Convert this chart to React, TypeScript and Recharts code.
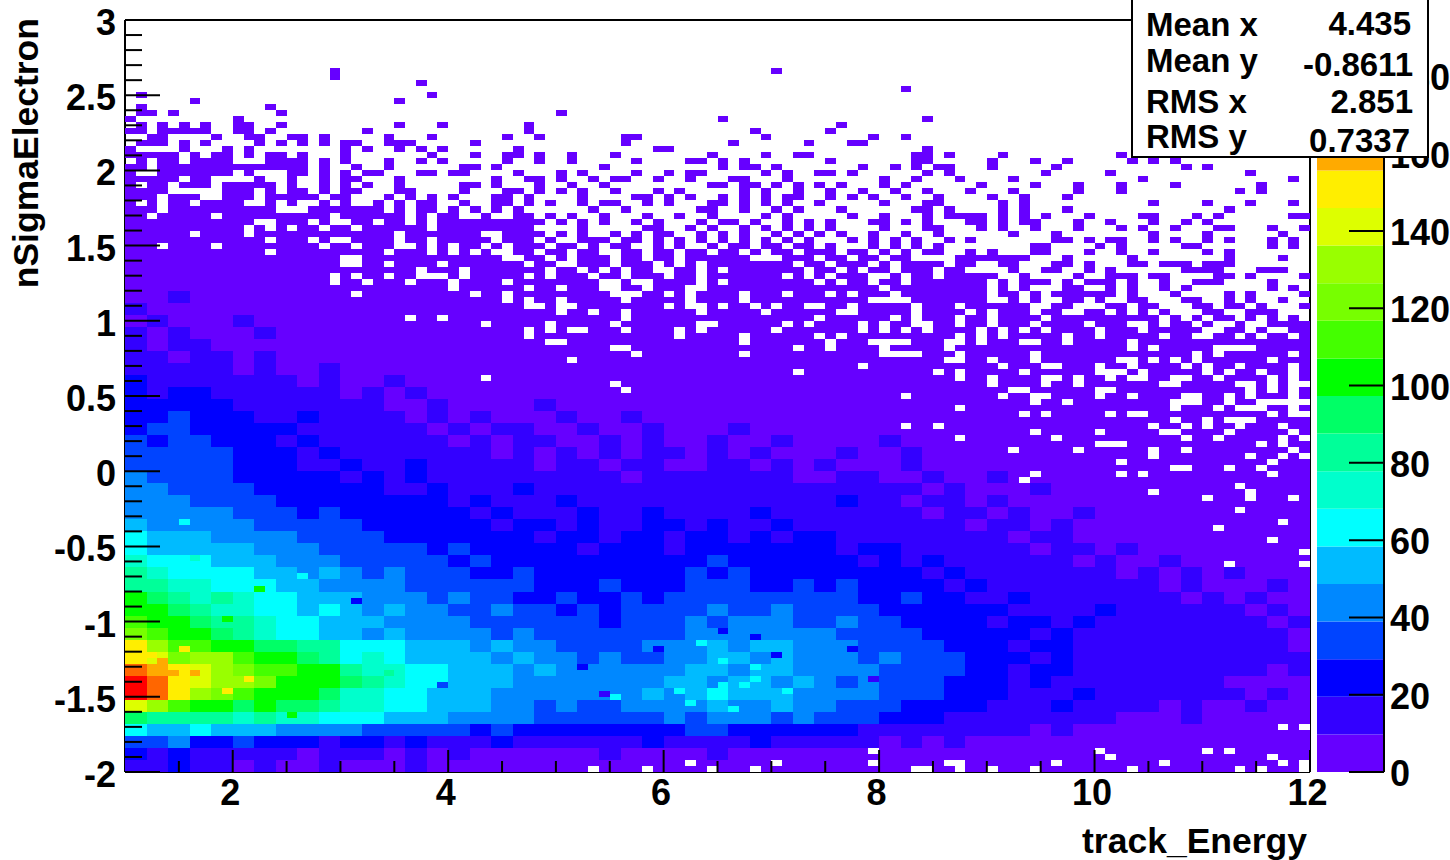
import { ScatterChart, Scatter, BarChart, Bar, XAxis, YAxis, ReferenceLine } from 'recharts';

const PLOT_LEFT = 125;
const PLOT_TOP = 20;
const PLOT_W = 1185;
const PLOT_H = 752;
const PX_PER_X = PLOT_W / 11;
const PX_PER_Y = PLOT_H / 5;
const FONT = '"Liberation Sans", Arial, sans-serif';

const CELL_W = 0.2;
const CELL_H = 0.08;
const FINE_W = 0.1;
const FINE_H = 0.04;
const Z_MAX = 194.6;

const xTicks = [1.5, 2, 2.5, 3, 3.5, 4, 4.5, 5, 5.5, 6, 6.5, 7, 7.5, 8, 8.5, 9, 9.5, 10, 10.5, 11, 11.5, 12];
const xLabels = [2, 4, 6, 8, 10, 12];
const yTicks = [
  -2, -1.9, -1.8, -1.7, -1.6, -1.5, -1.4, -1.3, -1.2, -1.1, -1, -0.9, -0.8, -0.7, -0.6, -0.5, -0.4, -0.3, -0.2, -0.1, 0,
  0.1, 0.2, 0.3, 0.4, 0.5, 0.6, 0.7, 0.8, 0.9, 1, 1.1, 1.2, 1.3, 1.4, 1.5, 1.6, 1.7, 1.8, 1.9, 2, 2.1, 2.2, 2.3, 2.4,
  2.5, 2.6, 2.7, 2.8, 2.9, 3,
];
const yLabels = [-2, -1.5, -1, -0.5, 0, 0.5, 1, 1.5, 2, 2.5, 3];
const zTicks = [0, 20, 40, 60, 80, 100, 120, 140, 160, 180];

const palette = [
  '#6600ff', '#3300ff', '#0000ff', '#0044ff', '#0088ff', '#00bbff', '#00ffff', '#00ffcc', '#00ff99', '#00ff66',
  '#00ff00', '#44ff00', '#77ff00', '#99ff00', '#ddff00', '#ffee00', '#ffaa00', '#ff6600', '#ff2200', '#ff0000',
];

// entries per coarse cell, bottom row first, x from 1 in steps of 0.2, y from -2 in steps of 0.08
const heatCounts = [
  [15,15,25,15,15,5,15,5,5,15, 5,5,5,15,5,5,5,5,5,5, 5,5,5,5,5,5,5,5,5,5, 5,5,5,5,5,5,5,5,5,5, 5,5,5,5,5,5,5,5,5,5, 5,5,5,5,5],
  [25,15,25,15,15,15,15,15,5,15, 15,15,5,15,5,15,5,5,5,5, 5,5,15,5,5,5,5,15,5,5, 5,5,5,5,5,5,5,5,5,5, 5,5,5,5,5,5,5,5,5,5, 5,5,5,5,5],
  [35,35,45,25,25,35,25,25,25,15, 25,25,15,25,15,15,15,25,15,15, 15,15,15,15,25,15,15,15,15,25, 15,15,15,15,15,5,15,5,15,5, 5,5,5,5,5,5,5,5,5,5, 5,5,5,5,5],
  [65,55,55,65,55,55,55,45,45,45, 45,35,35,35,35,35,25,35,25,25, 25,25,25,25,25,25,35,35,25,25, 25,25,25,25,15,15,15,15,15,15, 15,15,5,15,5,5,5,5,5,5, 5,5,5,5,5],
  [95,85,85,85,85,75,85,75,75,65, 65,65,55,55,55,45,45,45,45,35, 35,35,35,35,35,45,35,45,45,45, 35,45,35,35,35,25,25,25,15,15, 15,15,15,15,15,15,5,5,5,15, 5,5,5,5,5],
  [145,135,115,105,105,95,105,95,95,85, 75,75,65,65,55,55,55,45,45,35, 45,35,35,45,45,45,45,55,45,45, 55,45,45,35,35,35,25,25,25,25, 15,15,15,25,15,15,15,15,5,15, 5,5,15,5,5],
  [185,175,155,135,125,115,105,105,105,95, 75,75,65,65,55,55,55,45,45,45, 45,45,45,45,55,45,55,65,55,55, 55,45,45,45,45,35,35,35,25,25, 25,15,15,15,25,15,15,15,15,15, 15,15,5,15,5],
  [185,175,155,145,135,135,125,105,105,105, 95,85,75,65,65,55,55,55,45,45, 45,45,45,45,45,55,55,45,55,55, 45,55,45,35,45,35,35,35,25,25, 25,15,25,15,15,15,15,15,15,15, 15,5,5,5,5],
  [175,165,155,145,135,125,115,115,105,105, 85,75,75,65,65,55,55,55,45,55, 45,45,45,45,45,45,55,55,45,55, 55,45,45,45,45,35,35,35,35,25, 25,15,25,25,15,15,15,15,15,15, 15,15,15,5,15],
  [155,145,125,135,135,115,105,105,95,85, 65,75,65,55,55,55,55,45,55,45, 45,35,45,35,35,45,45,55,55,45, 55,45,45,45,35,45,35,35,35,25, 25,25,15,25,15,15,15,15,15,15, 15,15,15,15,15],
  [155,135,115,115,105,105,95,95,85,85, 65,65,65,55,55,55,45,55,45,45, 35,35,35,35,45,45,45,55,45,55, 55,45,45,45,35,35,35,35,25,25, 25,15,25,25,15,15,15,15,15,15, 15,15,15,15,5],
  [125,115,105,105,95,85,75,65,65,55, 55,45,55,45,45,45,45,35,45,35, 35,35,35,35,35,35,45,45,45,45, 45,45,45,35,35,35,35,25,25,25, 25,25,15,25,15,15,15,15,15,15, 15,15,15,15,5],
  [115,105,105,95,85,85,75,65,65,55, 55,55,45,45,45,45,35,35,35,35, 35,35,25,35,35,35,45,35,45,45, 45,35,35,45,35,35,25,25,25,25, 15,25,25,15,25,15,15,15,15,15, 15,15,15,5,15],
  [105,105,95,85,75,75,65,65,55,65, 55,45,55,45,45,35,35,45,35,35, 25,35,25,35,35,35,35,45,35,35, 45,35,35,35,35,25,25,25,25,25, 25,15,15,15,15,25,15,15,15,15, 15,15,5,15,5],
  [105,95,85,75,85,75,65,65,55,55, 55,45,45,45,35,45,35,35,25,25, 35,25,25,35,25,35,35,35,35,35, 35,35,35,35,25,25,35,25,25,15, 15,25,15,15,15,15,15,15,15,5, 15,5,15,5,5],
  [85,85,75,75,65,65,65,55,55,45, 45,45,45,35,35,35,35,35,35,25, 25,25,35,25,25,25,35,35,35,25, 25,35,25,35,25,25,25,25,15,25, 15,15,15,15,15,15,15,15,5,15, 5,5,5,15,5],
  [85,75,65,65,65,65,55,55,45,55, 45,35,45,35,35,35,25,25,35,25, 25,25,25,25,25,25,35,25,35,25, 25,25,25,25,25,25,25,15,25,15, 15,15,15,15,15,15,5,15,5,15, 5,15,5,5,5],
  [75,65,65,65,55,55,55,45,45,45, 35,35,35,35,35,25,35,25,25,25, 25,25,25,25,25,25,25,35,25,25, 25,25,25,25,15,25,15,25,15,15, 15,15,15,15,5,15,5,5,15,5, 5,5,5,5,5],
  [65,55,55,55,55,55,45,45,45,35, 35,35,35,35,25,35,25,25,25,25, 25,15,25,25,25,15,25,25,25,25, 25,25,25,15,25,25,15,15,15,15, 15,15,5,15,15,5,15,5,5,5, 5,5,5,5,5],
  [65,55,55,55,45,45,45,45,35,35, 35,35,25,25,25,25,25,25,25,15, 25,25,15,25,25,15,25,25,15,25, 15,25,25,15,15,15,15,15,15,15, 15,5,15,15,5,5,5,5,5,5, 5,5,5,5,5],
  [55,45,45,45,45,45,35,35,35,35, 35,25,25,25,25,25,25,15,25,25, 15,25,15,15,25,25,15,25,15,15, 25,15,15,15,15,15,15,15,15,5, 15,15,5,15,5,5,5,5,5,5, 5,5,5,5,5],
  [45,45,45,45,45,35,35,35,25,35, 25,25,25,25,25,25,15,25,15,15, 15,25,15,15,25,15,15,15,15,25, 15,15,15,15,15,15,15,5,15,15, 5,15,5,5,15,5,5,5,5,5, 5,5,5,5,5],
  [45,45,45,35,35,35,35,25,25,25, 25,25,25,25,25,15,25,15,15,15, 25,15,15,15,15,15,15,15,15,15, 15,15,15,25,15,15,5,15,15,5, 15,5,5,5,5,5,5,5,5,5, 5,5,5,5,5],
  [45,45,35,35,35,35,25,25,25,25, 25,25,15,15,25,15,15,15,25,15, 15,15,15,15,15,15,15,15,15,15, 15,15,15,15,15,15,15,5,15,5, 5,5,15,5,5,5,5,5,5,5, 5,5,5,5,5],
  [45,35,35,35,35,25,25,25,25,25, 15,25,15,25,15,15,15,15,15,15, 15,15,15,5,15,15,15,15,15,15, 15,5,5,15,15,5,5,15,5,5, 15,5,5,5,5,5,5,5,5,5, 5,5,5,5,5],
  [35,35,35,35,35,25,25,25,15,15, 25,15,15,25,15,15,15,15,15,5, 15,15,5,15,15,5,5,15,15,5, 15,5,15,5,5,5,15,5,5,5, 5,5,5,5,5,5,5,5,5,5, 5,5,5,5,5],
  [35,35,35,35,35,25,25,25,15,25, 15,15,15,15,15,15,15,5,15,5, 15,5,15,5,15,15,5,15,5,15, 5,5,5,15,5,5,15,5,5,5, 5,5,5,5,5,5,5,5,5,5, 5,5,5,5,5],
  [35,25,35,35,25,25,25,15,25,15, 15,15,15,15,15,5,15,5,15,15, 5,5,15,5,15,5,5,15,5,5, 15,5,5,5,5,15,5,5,5,5, 5,5,5,5,5,5,5,5,5,5, 5,5,5,5,5],
  [25,35,35,25,25,25,25,25,15,15, 15,15,15,15,5,15,5,15,15,5, 5,15,5,5,15,5,5,5,15,5, 5,5,5,5,5,5,5,5,5,5, 5,5,5,5,5,5,5,5,5,5, 5,5,5,5,5],
  [25,25,35,25,25,25,15,15,25,15, 15,15,15,5,15,5,15,5,5,5, 15,5,5,15,5,5,5,5,5,5, 5,5,5,5,5,5,5,5,5,5, 5,5,5,5,5,5,5,5,5,5, 5,5,5,5,5],
  [25,25,25,25,25,15,15,15,15,15, 15,15,5,5,15,5,5,5,5,15, 5,5,5,5,5,5,5,5,5,5, 5,5,5,5,5,5,5,5,5,5, 5,5,5,5,5,5,5,5,5,5, 5,5,5,5,5],
  [25,15,25,25,15,15,15,15,15,15, 5,15,5,15,5,5,5,5,5,5, 5,5,5,5,5,5,5,5,5,5, 5,5,5,5,5,5,5,5,5,5, 5,5,5,5,5,5,5,5,5,5, 5,5,5,5,5],
  [25,15,15,15,15,15,15,15,5,15, 5,5,15,5,5,5,5,5,5,5, 5,5,5,5,5,5,5,5,5,5, 5,5,5,5,5,5,5,5,5,5, 5,5,5,5,5,5,5,5,5,5, 5,5,5,5,5],
  [15,15,15,15,15,5,15,5,5,15, 5,5,5,5,5,5,5,5,5,5, 5,5,5,5,5,5,5,5,5,5, 5,5,5,5,5,5,5,5,5,5, 5,5,5,5,5,5,5,5,5,5, 5,5,5,5,5],
  [15,15,5,15,15,5,15,5,5,5, 5,5,5,5,5,5,5,5,5,5, 5,5,5,5,5,5,5,5,5,5, 5,5,5,5,5,5,5,5,5,5, 5,5,5,5,5,5,5,5,5,5, 5,5,5,5,5],
  [15,5,15,15,5,5,5,5,5,5, 5,5,5,5,5,5,5,5,5,5, 5,5,5,5,5,5,5,5,5,5, 5,5,5,5,5,5,5,5,5,5, 5,5,5,5,5,5,5,5,5,5, 5,5,5,5,5],
  [15,5,15,5,5,5,15,5,5,5, 5,5,5,5,5,5,5,5,5,5, 5,5,5,5,5,5,5,5,5,5, 5,5,5,5,5,5,5,5,5,5, 5,5,5,5,5,5,5,5,5,5, 0,0,0,0,0],
  [5,15,5,5,5,15,5,5,5,5, 5,5,5,5,5,5,5,5,5,5, 5,5,5,5,5,5,5,5,5,5, 5,5,5,5,5,5,5,5,5,5, 5,5,5,5,5,5,5,5,0,0, 0,0,0,0,0],
  [15,5,5,5,5,5,5,5,5,5, 5,5,5,5,5,5,5,5,5,5, 5,5,5,5,5,5,5,5,5,5, 5,5,5,5,5,5,5,5,5,5, 5,5,0,0,0,0,0,0,0,0, 0,0,0,0,0],
  [5,5,15,5,5,5,5,5,5,5, 5,5,5,5,5,5,5,5,5,5, 5,5,5,5,5,5,5,5,5,5, 5,5,5,5,5,5,5,5,5,5, 0,0,0,0,0,0,0,0,0,0, 0,0,0,0,0],
];

// filled bands above the table: lower y of the band and the x where it stops
const bandYs = [1.2, 1.28, 1.36, 1.44, 1.52, 1.6, 1.68, 1.76, 1.84, 1.92];
const bandEnds = [9.0, 8.4, 8.4, 4.8, 4.8, 4.8, 3.4, 2.8, 2.4, 2.0];

// single bins that stand out from their coarse cell: lower y, lower x, entries
const accentYs = [-1.28, -1.24, -1.2, -1.4, -1.36, -1.36, -1.36, -1.48, -1.12, -1.0, -0.92, -1.16, -1.28, -1.32, -1.44, -1.44, -1.4, -1.48, -1.48, -1.56, -1.6, -1.12, -1.2, -1.4, -1.5, -1.24, -1.08, -1.2, -1.32, -1.52, -1.36, -0.8, -0.6, -0.88, -0.72, -1.64, -1.44, -1.24, -0.36];
const accentXs = [1.3, 1.2, 1.5, 2.1, 1.3, 1.4, 1.6, 1.9, 1.6, 1.9, 1.7, 6.3, 6.5, 6.8, 6.5, 6.7, 6.8, 7.1, 6.1, 6.2, 6.6, 6.8, 7.7, 7.9, 5.4, 7.0, 6.5, 5.9, 5.2, 5.5, 3.4, 2.2, 1.6, 3.1, 2.6, 2.5, 3.9, 3.3, 1.5];
const accentCounts = [165, 155, 155, 155, 165, 165, 165, 155, 105, 105, 85, 65, 65, 65, 65, 65, 65, 65, 65, 65, 65, 25, 25, 15, 15, 25, 25, 25, 25, 65, 85, 105, 75, 25, 65, 105, 35, 75, 65];

// single filled bins outside the bands: [lower y, lower x of each bin]
const speckRows: [number, number[]][] = [
  [2.64, [2.9, 7.0]],
  [2.6, [2.9]],
  [2.56, [3.7]],
  [2.52, [8.2]],
  [2.48, [1.1, 3.8]],
  [2.44, [1.6, 3.5]],
  [2.4, [1.1, 2.3]],
  [2.36, [1.1, 1.2, 1.4, 2.4, 5.0]],
  [2.32, [1.0, 2.0, 6.5, 8.4]],
  [2.28, [1.1, 1.3, 1.5, 1.7, 2.0, 2.1, 2.4, 3.5, 3.9, 4.7, 7.6]],
  [2.24, [1.0, 1.1, 1.3, 1.4, 1.5, 1.6, 1.7, 2.0, 2.1, 2.3, 3.2, 4.7, 6.8, 7.5]],
  [2.2, [1.2, 1.3, 1.8, 2.1, 2.2, 2.5, 2.6, 2.8, 3.4, 3.8, 4.5, 4.8, 5.6, 5.7, 6.9, 7.9, 8.2]],
  [2.16, [1.1, 1.2, 1.3, 1.5, 1.7, 2.2, 2.4, 2.6, 2.8, 3.0, 3.1, 3.4, 3.5, 3.6, 4.2, 5.6, 6.6, 7.3, 7.7, 7.8]],
  [2.12, [1.0, 1.5, 1.9, 2.1, 3.0, 3.2, 3.5, 3.7, 3.9, 4.6, 5.9, 6.0, 8.4]],
  [2.08, [1.0, 1.1, 1.2, 1.3, 1.4, 1.6, 1.8, 1.9, 2.1, 2.3, 2.4, 2.6, 3.0, 3.8, 4.2, 4.5, 4.6, 4.8, 5.1, 5.5, 6.4, 6.9, 7.2, 7.3, 8.3, 8.4, 8.6, 9.1, 10.2, 10.5, 11.8]],
  [2.04, [1.1, 1.3, 1.4, 1.6, 1.7, 1.8, 1.9, 2.3, 2.4, 2.5, 2.6, 2.8, 3.0, 3.4, 3.7, 3.9, 4.5, 4.8, 5.1, 5.7, 6.2, 6.3, 6.5, 6.7, 7.5, 8.3, 8.4, 9.0, 9.4, 9.7, 10.3, 10.5, 10.7]],
  [2.0, [1.0, 1.1, 1.3, 1.4, 1.5, 1.6, 1.7, 1.8, 1.9, 2.0, 2.1, 2.2, 2.3, 2.4, 2.5, 2.6, 2.8, 3.1, 3.4, 4.1, 4.2, 4.4, 5.4, 6.5, 6.7, 6.8, 7.0, 7.8, 8.1, 8.3, 8.5, 8.6, 9.0, 9.6, 10.8, 11.0]],
  [1.96, [2.1, 2.5, 2.6, 2.8, 3.0, 3.2, 3.3, 3.7, 3.8, 4.0, 4.1, 4.6, 5.0, 5.2, 5.7, 6.0, 6.2, 6.3, 6.9, 7.1, 7.4, 7.5, 7.7, 8.4, 8.6, 9.5, 10.1, 11.4]],
  [1.92, [2.2, 2.5, 2.8, 3.0, 3.1, 3.5, 4.4, 4.7, 4.8, 5.0, 5.3, 5.5, 5.6, 5.9, 6.2, 6.6, 6.7, 7.1, 8.0, 8.3, 8.7, 9.2, 10.4, 11.8]],
  [1.88, [2.2, 2.3, 2.5, 2.8, 3.0, 3.2, 3.5, 4.1, 4.2, 4.4, 4.8, 5.1, 5.4, 6.4, 6.5, 6.7, 6.8, 7.0, 7.2, 7.4, 7.6, 8.0, 8.2, 8.9, 9.4, 9.8, 10.2, 10.7, 11.5]],
  [1.84, [2.5, 2.6, 2.8, 3.0, 3.1, 3.5, 3.6, 4.1, 4.5, 4.6, 4.8, 5.0, 5.2, 5.5, 5.9, 6.1, 6.7, 6.9, 7.2, 7.5, 7.8, 8.1, 8.4, 8.8, 9.2, 9.8, 10.2, 11.3, 11.5]],
  [1.8, [2.4, 2.5, 2.9, 3.0, 3.4, 3.6, 3.8, 4.0, 4.4, 4.5, 4.7, 5.2, 5.7, 5.8, 6.0, 6.2, 6.5, 6.7, 6.9, 7.1, 7.2, 7.5, 7.7, 7.9, 8.2, 8.5, 9.0, 9.3, 9.7]],
  [1.76, [2.8, 3.0, 3.3, 3.5, 3.7, 3.8, 4.1, 4.4, 4.5, 4.7, 4.9, 5.2, 5.4, 5.5, 5.8, 6.0, 6.4, 6.5, 6.7, 6.9, 7.1, 7.4, 8.0, 8.4, 8.5, 9.1, 9.3, 10.5, 11.0, 11.4, 11.8]],
  [1.72, [3.0, 3.1, 3.3, 3.5, 3.7, 3.8, 4.0, 4.2, 4.4, 4.6, 5.3, 5.6, 6.3, 6.4, 6.7, 7.0, 7.2, 7.6, 8.3, 8.4, 8.6, 9.1, 9.3, 9.7, 11.2]],
  [1.68, [3.4, 3.5, 3.7, 3.9, 4.0, 4.3, 4.6, 4.7, 4.9, 5.1, 5.4, 5.8, 6.1, 6.4, 6.9, 7.1, 7.7, 8.0, 8.4, 8.6, 8.7, 8.8, 8.9, 9.1, 9.3, 9.5, 9.9, 10.4, 10.5, 10.9, 11.1, 11.8, 11.9]],
  [1.64, [4.8, 5.0, 5.2, 5.4, 5.7, 5.9, 6.3, 6.5, 6.6, 6.8, 7.1, 7.3, 7.5, 7.9, 8.0, 8.2, 8.4, 8.8, 8.9, 9.1, 9.3, 9.4, 9.8, 10.1, 10.5, 10.8, 11.0]],
  [1.6, [5.2, 5.8, 5.9, 6.2, 6.4, 6.7, 6.9, 7.1, 7.3, 7.5, 8.0, 8.4, 8.5, 8.9, 9.1, 9.4, 9.8, 10.2, 10.4, 10.7, 11.1, 11.2, 11.6, 11.9]],
  [1.56, [4.8, 5.0, 5.2, 5.5, 5.7, 5.9, 6.0, 6.3, 6.5, 6.7, 7.0, 7.2, 7.4, 7.6, 7.9, 8.2, 8.5, 9.2, 9.6, 10.5, 11.0, 11.7]],
  [1.52, [4.9, 5.2, 5.3, 5.4, 5.6, 5.7, 5.9, 6.1, 6.3, 6.5, 6.7, 6.9, 7.1, 7.3, 7.7, 7.9, 8.1, 8.3, 8.6, 8.8, 9.6, 9.7, 9.9, 10.1, 10.2, 10.5, 10.7, 11.0, 11.2, 11.6, 11.8]],
  [1.48, [4.8, 5.0, 5.1, 5.3, 5.5, 5.6, 5.9, 6.1, 6.4, 6.6, 6.7, 6.9, 7.0, 7.2, 7.3, 7.5, 7.9, 8.1, 8.3, 8.5, 9.4, 9.5, 10.0, 10.2, 10.8, 10.9, 11.6, 11.8]],
  [1.44, [4.9, 5.0, 5.2, 5.3, 5.6, 5.7, 5.9, 6.0, 6.2, 6.3, 6.5, 6.6, 6.8, 7.0, 7.1, 7.3, 7.4, 7.5, 7.7, 7.8, 8.0, 8.2, 8.4, 8.5, 8.8, 9.0, 9.4, 9.5, 9.9, 10.2, 10.5, 11.0, 11.2]],
  [1.4, [8.7, 8.8, 8.9, 9.0, 9.1, 9.2, 9.3, 9.7, 10.3, 11.2, 11.7]],
  [1.36, [8.4, 8.5, 8.7, 8.8, 9.1, 9.2, 9.6, 9.7, 9.9, 10.3, 10.4, 10.6, 10.7, 10.8, 11.0, 11.1, 11.2]],
  [1.32, [8.4, 8.6, 8.7, 9.2, 9.5, 9.6, 9.9, 10.1, 10.8, 10.9, 11.0, 11.1, 11.5, 11.6, 11.7]],
  [1.28, [8.4, 8.6, 8.7, 8.8, 8.9, 9.0, 9.3, 9.8, 10.1, 10.2, 10.3, 10.5, 10.6, 11.1, 11.2, 11.4, 11.9]],
  [1.24, [8.4, 8.5, 8.7, 8.9, 9.1, 9.3, 9.4, 9.5, 9.7, 9.9, 10.0, 10.1, 10.3, 10.6, 10.9, 11.0, 11.1, 11.6]],
  [1.2, [9.1, 9.3, 9.7, 9.8, 10.1, 10.3, 10.6, 10.8, 11.6, 11.8]],
  [1.16, [9.1, 9.2, 9.4, 9.6, 9.7, 9.8, 9.9, 10.0, 10.1, 10.3, 10.7, 11.2, 11.4, 11.9]],
  [1.12, [9.2, 9.4, 9.7, 9.8, 10.0, 10.3, 10.4, 10.8, 10.9, 11.2, 11.4, 11.7]],
  [1.08, [9.6, 9.7, 10.1, 10.2, 10.4, 10.5, 10.9, 11.0, 11.2, 11.3, 11.5, 11.9]],
  [1.04, [9.5, 9.6, 9.9, 10.0, 10.2, 10.4, 10.6, 11.0, 11.1, 11.4, 11.5, 11.6]],
  [1.0, [10.7, 10.9, 11.1, 11.2, 11.4, 11.6, 11.8]],
  [0.96, [10.7, 10.8, 11.0, 11.3, 11.6, 11.7, 11.8, 11.9]],
  [0.92, [11.2, 11.3, 11.5, 11.8, 11.9]],
  [0.88, [11.1, 11.2, 11.4, 11.6, 11.7, 11.9]],
];

// bins with no entries inside the filled area: [lower y, lower x of each bin]
const holeRows: [number, number[]][] = [
  [1.96, [1.1, 1.2]],
  [1.92, [1.5, 1.8, 1.9]],
  [1.88, [1.1, 1.4, 1.8]],
  [1.84, [1.4, 1.5, 1.6, 1.7, 1.8, 2.2]],
  [1.8, [1.3, 1.7, 1.8, 2.2]],
  [1.76, [1.1, 1.3, 1.6, 2.1, 2.2, 2.4, 2.6, 2.7]],
  [1.72, [1.3, 2.4, 2.5, 2.6]],
  [1.68, [1.2, 1.8, 2.9]],
  [1.64, [2.2, 2.3, 2.7, 2.9, 3.0, 3.3, 3.6, 3.8]],
  [1.6, [2.1, 2.3, 2.5, 2.8, 3.1, 3.8]],
  [1.56, [1.6, 2.1, 3.5, 4.3, 4.4]],
  [1.52, [2.3, 2.7, 2.9, 3.0, 3.5, 3.8, 4.4]],
  [1.48, [1.3, 1.8, 2.8, 3.1, 3.5, 3.6, 3.8, 4.0, 4.3, 4.5]],
  [1.44, [2.3, 3.4, 3.8, 4.0, 4.2, 4.4, 4.5]],
  [1.4, [3.0, 3.1, 4.5, 4.6, 4.9, 5.1, 5.5, 5.8, 6.1, 6.8, 6.9, 7.0, 7.4, 7.7, 8.0, 8.3]],
  [1.36, [3.0, 3.1, 3.4, 3.9, 4.7, 5.0, 5.1, 5.5, 5.9, 6.1, 6.3, 7.2, 7.5, 7.9, 8.1]],
  [1.32, [3.7, 4.1, 4.9, 5.2, 5.4, 5.6, 5.9, 6.0, 6.3, 6.5, 7.3, 7.6, 7.8, 8.1]],
  [1.28, [2.9, 3.1, 3.4, 3.7, 3.8, 3.9, 4.1, 4.7, 4.9, 5.3, 5.6, 6.0, 6.3, 7.1, 7.3, 7.5, 7.9, 8.0, 8.2]],
  [1.24, [2.9, 3.2, 3.6, 4.0, 4.5, 5.4, 5.5, 5.7, 5.8, 6.3, 6.5, 7.4, 7.6, 7.9, 8.2]],
  [1.2, [4.0, 4.7, 5.0, 5.4, 5.5, 5.8, 6.2, 6.3, 8.0]],
  [1.16, [3.1, 4.2, 4.5, 5.5, 5.6, 5.7, 6.0, 6.2, 6.7, 7.1, 7.5, 7.7, 8.1]],
  [1.12, [4.5, 4.7, 5.0, 5.6, 6.2, 6.7, 7.9, 8.0, 8.1, 8.2]],
  [1.08, [4.7, 4.8, 5.0, 5.1, 6.0, 6.2, 6.3, 6.5, 6.8, 7.0, 7.3, 7.4, 7.7, 8.3, 8.7]],
  [1.04, [5.0, 5.3, 5.6, 6.3, 6.9, 7.6, 7.7, 8.3, 8.8, 9.0]],
  [1.0, [3.6, 3.9, 5.6, 7.4, 8.1, 8.3, 8.7, 9.0, 9.5]],
  [0.96, [4.3, 4.9, 5.5, 6.3, 6.4, 7.1, 7.3, 7.8, 8.0, 8.3, 8.4, 8.7, 9.0, 9.4, 9.9, 10.3, 10.4]],
  [0.92, [4.7, 4.9, 5.1, 5.2, 5.6, 6.1, 6.3, 7.0, 7.8, 8.0, 8.2, 8.4, 8.9, 9.1, 9.3, 9.5, 10.0, 10.4]],
  [0.88, [4.7, 6.1, 6.7, 7.4, 7.6, 8.7, 8.9, 9.1, 9.7, 10.0, 10.6, 10.9]],
  [0.84, [4.9, 5.0, 6.7, 7.5, 7.9, 8.0, 8.1, 8.2, 8.6, 8.7, 8.9, 9.3, 9.4, 9.7, 10.3]],
  [0.8, [5.5, 5.6, 7.2, 7.5, 8.0, 8.6, 10.3, 10.5, 11.1, 11.2, 11.3, 11.4]],
  [0.76, [5.7, 6.7, 8.0, 8.1, 8.2, 8.3, 8.7, 9.4, 10.9, 11.1, 11.8]],
  [0.72, [5.1, 8.6, 8.7, 9.0, 9.4, 10.2, 10.3, 10.5, 10.7, 10.9, 11.6]],
  [0.68, [7.8, 9.1, 9.5, 9.6, 10.0, 10.3, 10.8, 11.0, 11.3, 11.8]],
  [0.64, [7.2, 8.5, 8.7, 9.3, 10.0, 10.1, 10.2, 10.4, 11.0, 11.2, 11.5, 11.8]],
  [0.6, [4.3, 8.7, 9.0, 9.5, 9.6, 9.8, 10.1, 10.3, 10.4, 10.7, 10.8, 11.1, 11.6, 11.8]],
  [0.56, [5.5, 9.0, 9.5, 9.8, 10.6, 10.7, 11.3, 11.4, 11.6, 11.8, 11.9]],
  [0.52, [5.6, 9.2, 9.3, 10.0, 10.1, 11.4, 11.6, 11.8]],
  [0.48, [8.2, 9.1, 9.4, 9.5, 10.0, 10.3, 10.8, 10.9, 11.2, 11.4, 11.8]],
  [0.44, [9.4, 9.7, 10.7, 10.8, 10.9, 11.2, 11.5, 11.6, 11.7, 11.8, 11.9]],
  [0.4, [8.7, 10.7, 11.1, 11.3, 11.4, 11.5, 11.8]],
  [0.36, [9.3, 9.5, 10.1, 10.3, 10.4, 11.6, 11.8, 11.9]],
  [0.32, [10.7, 11.0, 11.2, 11.3, 11.4]],
  [0.28, [8.2, 8.5, 10.5, 10.8, 11.0, 11.3, 11.7]],
  [0.24, [9.4, 10.0, 10.6, 10.7, 11.2, 11.8]],
  [0.2, [8.7, 9.6, 10.8, 11.1, 11.7, 11.9]],
  [0.16, [10.0, 10.1, 10.2, 11.5, 11.7]],
  [0.12, [9.2, 9.8, 10.5, 10.8, 11.8]],
  [0.08, [10.5, 11.4, 11.7, 11.9]],
  [0.04, [10.2, 11.6]],
  [0.0, [10.7, 10.8, 11.2, 11.5]],
  [-0.04, [9.4, 10.2, 10.4, 11.6]],
  [-0.08, [9.3]],
  [-0.12, [11.3]],
  [-0.16, [10.5, 11.4]],
  [-0.2, [11.0, 11.4, 11.8]],
  [-0.28, [11.3]],
  [-0.36, [11.7]],
  [-0.4, [11.1]],
  [-0.48, [11.6]],
  [-0.56, [11.9]],
  [-0.64, [11.2, 11.9]],
  [-1.72, [11.7, 11.9]],
  [-1.88, [7.9, 10.0, 11.0, 11.2]],
  [-1.92, [10.1, 11.6]],
  [-1.96, [6.2, 7.0, 7.9, 8.6, 8.7, 9.6, 10.6, 11.7, 11.9]],
  [-2, [5.3, 5.8, 6.4, 6.8, 8.3, 8.4, 8.7, 9.0, 9.4, 10.3, 11.3, 11.5, 11.9]],
];

const levelOf = (count: number) => Math.min(19, Math.floor(count / (Z_MAX / 20)));

const heatCells = heatCounts.flatMap((row, k) =>
  row.flatMap((count, i) =>
    count > 0
      ? [{ x: 1 + i * CELL_W + CELL_W / 2, y: -2 + k * CELL_H + CELL_H / 2, w: CELL_W, h: CELL_H, fill: palette[levelOf(count)] }]
      : [],
  ),
);
const bandCells = bandYs.map((y, k) => ({
  x: (1 + bandEnds[k]) / 2,
  y: y + CELL_H / 2,
  w: bandEnds[k] - 1,
  h: CELL_H,
  fill: palette[0],
}));
const accentCells = accentYs.map((y, k) => ({
  x: accentXs[k] + FINE_W / 2,
  y: y + FINE_H / 2,
  w: FINE_W,
  h: FINE_H,
  fill: palette[levelOf(accentCounts[k])],
}));
const fineCells = (rows: [number, number[]][], fill: string) =>
  rows.flatMap(([y, xs]) => xs.map((x) => ({ x: x + FINE_W / 2, y: y + FINE_H / 2, w: FINE_W, h: FINE_H, fill })));
const speckCells = fineCells(speckRows, palette[0]);
const holeCells = fineCells(holeRows, '#ffffff');

const paletteRow: Record<string, number | string> = { name: 'z' };
palette.forEach((_, i) => {
  paletteRow[`l${i}`] = Z_MAX / 20;
});

function HeatCell(props: any) {
  const { cx, cy, payload } = props;
  const w = payload.w * PX_PER_X;
  const h = payload.h * PX_PER_Y;
  return <rect x={cx - w / 2} y={cy - h / 2} width={w} height={h} fill={payload.fill} shapeRendering="crispEdges" />;
}

function XTick(props: any) {
  const { x, y, payload } = props;
  const major = xLabels.includes(payload.value);
  return (
    <g>
      <line x1={x} x2={x} y1={y} y2={y - (major ? 22 : 11)} stroke="#000" strokeWidth={2} />
      {major && (
        <text x={x - 2.5} y={y + 33} textAnchor="middle" fontFamily={FONT} fontWeight="bold" fontSize={36} fill="#000">
          {payload.value}
        </text>
      )}
    </g>
  );
}

function YTick(props: any) {
  const { x, y, payload } = props;
  const major = yLabels.includes(payload.value);
  return (
    <g>
      <line x1={x} x2={x + (major ? 35 : 17)} y1={y} y2={y} stroke="#000" strokeWidth={2} />
      {major && (
        <text x={x - 9} y={y + 15} textAnchor="end" fontFamily={FONT} fontWeight="bold" fontSize={36} fill="#000">
          {payload.value}
        </text>
      )}
    </g>
  );
}

function ZTick(props: any) {
  const { x, y, payload } = props;
  return (
    <g>
      <line x1={x - 35} x2={x} y1={y} y2={y} stroke="#000" strokeWidth={2} />
      <text x={x + 6} y={y + 14} textAnchor="start" fontFamily={FONT} fontWeight="bold" fontSize={36} fill="#000">
        {payload.value}
      </text>
    </g>
  );
}

const statLabels = ['Mean x', 'Mean y', 'RMS x', 'RMS y'];
const statValues = ['4.435', '-0.8611', '2.851', '0.7337'];
const statLabelBase = [36, 72, 113, 148];
const statValueBase = [35, 76, 113, 152];
const statValueEnd = [1411, 1413, 1413, 1410];

export default function App() {
  return (
    <div style={{ position: 'absolute', left: 0, top: 0, width: 1450, height: 860, background: '#fff', overflow: 'hidden' }}>
      <div style={{ position: 'absolute', left: 0, top: 0 }}>
        <ScatterChart
          width={1450}
          height={860}
          margin={{ top: PLOT_TOP, right: 1450 - PLOT_LEFT - PLOT_W, bottom: 38, left: PLOT_LEFT - 60 }}
        >
          <Scatter data={heatCells} shape={HeatCell} isAnimationActive={false} />
          <Scatter data={bandCells} shape={HeatCell} isAnimationActive={false} />
          <Scatter data={accentCells} shape={HeatCell} isAnimationActive={false} />
          <Scatter data={speckCells} shape={HeatCell} isAnimationActive={false} />
          <Scatter data={holeCells} shape={HeatCell} isAnimationActive={false} />
          <XAxis
            type="number"
            dataKey="x"
            domain={[1, 12]}
            allowDataOverflow
            ticks={xTicks}
            interval={0}
            height={50}
            tickSize={0}
            tickMargin={0}
            tick={XTick}
            axisLine={{ stroke: '#000', strokeWidth: 2 }}
          />
          <YAxis
            type="number"
            dataKey="y"
            domain={[-2, 3]}
            allowDataOverflow
            ticks={yTicks}
            interval={0}
            width={60}
            tickSize={0}
            tickMargin={0}
            tick={YTick}
            axisLine={{ stroke: '#000', strokeWidth: 2 }}
          />
          <ReferenceLine y={3} stroke="#000" strokeWidth={2} ifOverflow="visible" />
          <ReferenceLine x={12} stroke="#000" strokeWidth={2} ifOverflow="visible" />
        </ScatterChart>
      </div>
      <div style={{ position: 'absolute', left: 1317, top: 0 }}>
        <BarChart width={133} height={860} data={[paletteRow]} margin={{ top: PLOT_TOP, right: 0, bottom: 88, left: 0 }} barCategoryGap={0}>
          {palette.map((color, i) => (
            <Bar key={color} dataKey={`l${i}`} stackId="z" fill={color} isAnimationActive={false} />
          ))}
          <XAxis dataKey="name" hide />
          <YAxis
            orientation="right"
            type="number"
            domain={[0, Z_MAX]}
            allowDataOverflow
            ticks={zTicks}
            interval={0}
            width={66}
            tickSize={0}
            tickMargin={0}
            tick={ZTick}
            axisLine={{ stroke: '#000', strokeWidth: 2 }}
          />
        </BarChart>
      </div>
      <svg width={1450} height={860} style={{ position: 'absolute', left: 0, top: 0 }}>
        <text x={1307} y={853} textAnchor="end" fontFamily={FONT} fontWeight="bold" fontSize={35.5} fill="#000">
          track_Energy
        </text>
        <text
          transform="translate(38,18) rotate(-90)"
          textAnchor="end"
          fontFamily={FONT}
          fontWeight="bold"
          fontSize={35.5}
          fill="#000"
        >
          nSigmaElectron
        </text>
        <rect x={1132} y={-4} width={296} height={161} fill="#fff" stroke="#000" strokeWidth={2} />
        {statLabels.map((label, i) => (
          <text key={label} x={1146} y={statLabelBase[i]} fontFamily={FONT} fontWeight="bold" fontSize={33} fill="#000">
            {label}
          </text>
        ))}
        {statValues.map((value, i) => (
          <text key={value} x={statValueEnd[i]} y={statValueBase[i]} textAnchor="end" fontFamily={FONT} fontWeight="bold" fontSize={33} fill="#000">
            {value}
          </text>
        ))}
      </svg>
    </div>
  );
}
